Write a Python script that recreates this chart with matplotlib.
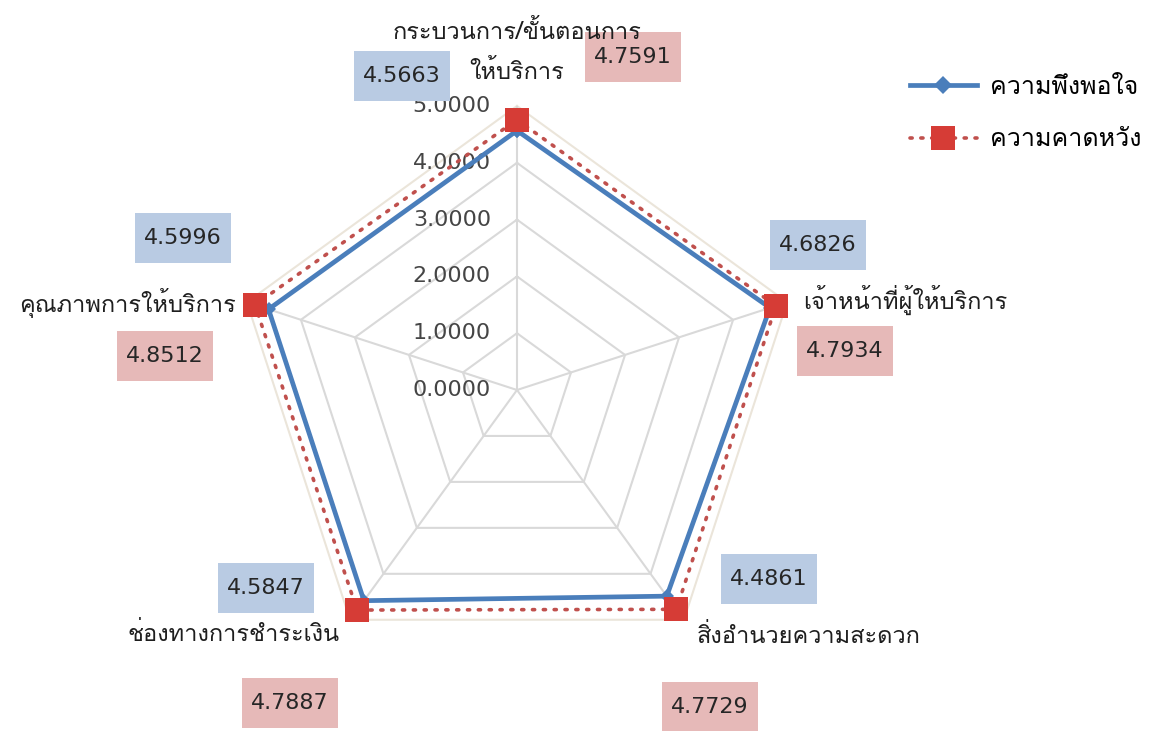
import numpy as np
import matplotlib
matplotlib.use("Agg")
import matplotlib.pyplot as plt
from matplotlib import font_manager
from matplotlib.ft2font import FT2Font
from matplotlib.lines import Line2D
from matplotlib.patches import Rectangle

# radar data: satisfaction vs expectation per service aspect
categories = ["กระบวนการ/ขั้นตอนการ\nให้บริการ",
              "เจ้าหน้าที่ผู้ให้บริการ",
              "สิ่งอำนวยความสะดวก",
              "ช่องทางการชำระเงิน",
              "คุณภาพการให้บริการ"]
satisfaction = [4.5663, 4.6826, 4.4861, 4.5847, 4.5996]
expectation = [4.7591, 4.7934, 4.7729, 4.7887, 4.8512]
levels = [0, 1, 2, 3, 4, 5]
series_names = ["ความพึงพอใจ", "ความคาดหวัง"]


def thai_family():
    preferred = ["Tahoma", "Loma", "Garuda", "Noto Sans Thai", "Noto Sans Thai UI",
                 "Norasi", "Kinnari", "Waree", "Umpush", "Sawasdee", "Laksaman"]
    found = {}
    for f in font_manager.fontManager.ttflist:
        try:
            cmap = FT2Font(f.fname).get_charmap()
        except Exception:
            continue
        if 0x0E01 in cmap and 0x0E49 in cmap:
            found.setdefault(f.name, f.fname)
    for name in preferred:
        if name in found:
            return name
    if found:
        return sorted(found)[0]
    return "DejaVu Sans"


THAI = thai_family()
plt.rcParams["font.family"] = [THAI, "DejaVu Sans"]

W, H = 1149, 731
fig = plt.figure(figsize=(W / 100, H / 100), dpi=100)


def fx(x, y):
    return x / W, 1 - y / H


# polar axes centred at (517, 390) px, radius 5 -> 284 px
cx, cy, rad = 517, 390, 284
ax = fig.add_axes([(cx - rad) / W, (H - cy - rad) / H, 2 * rad / W, 2 * rad / H],
                  projection="polar")
ax.set_theta_offset(np.pi / 2)
ax.set_theta_direction(-1)
ax.set_ylim(0, 5)
ax.grid(False)
ax.set_xticks([])
ax.set_yticks([])
ax.spines["polar"].set_visible(False)
ax.patch.set_alpha(0)

n = len(categories)
theta = np.linspace(0, 2 * np.pi, n, endpoint=False)
theta_c = np.append(theta, theta[0])

# pentagon gridlines and spokes (outer ring is fainter)
for lv in levels[1:]:
    col = "#ebe5da" if lv == levels[-1] else "#d9d9d9"
    ax.plot(theta_c, [lv] * (n + 1), color=col, lw=1.5, zorder=1, clip_on=False)
for t in theta:
    ax.plot([t, t], [0, levels[-1]], color="#d9d9d9", lw=1.5, zorder=1)

# radial tick labels along the vertical spoke
for lv in levels:
    ax.annotate(f"{lv:.4f}", xy=(0, lv), xytext=(-26, 0), textcoords="offset pixels",
                ha="right", va="center", fontsize=16, color="#454545",
                family="DejaVu Sans", zorder=3)

sat_c = np.append(satisfaction, satisfaction[0])
exp_c = np.append(expectation, expectation[0])
ax.plot(theta_c, sat_c, color="#4a7ebb", lw=3.4, marker="D", ms=7, mfc="#4a7ebb",
        mew=0, zorder=4, clip_on=False)
ax.plot(theta_c, exp_c, color="#c0504d", lw=2.6, ls=(0, (0.6, 2.4)),
        dash_capstyle="round", zorder=5, clip_on=False)
ax.plot(theta, expectation, ls="none", marker="s", ms=17, mfc="#d63c36", mew=0,
        zorder=6, clip_on=False)

# category labels
lab_kw = dict(fontsize=17, color="#1e1e1e")
top1, top2 = categories[0].split("\n")
fig.text(*fx(517, 32), top1, ha="center", va="center", **lab_kw)
fig.text(*fx(517, 72), top2, ha="center", va="center", **lab_kw)
fig.text(*fx(803, 300), categories[1], ha="left", va="center", **lab_kw)
fig.text(*fx(697, 636), categories[2], ha="left", va="center", **lab_kw)
fig.text(*fx(340, 634), categories[3], ha="right", va="center", **lab_kw)
fig.text(*fx(236, 303), categories[4], ha="right", va="center", **lab_kw)

# value boxes (centre positions in pixels)
sat_pos = [(402, 76), (818, 245), (769, 579), (266, 588), (183, 238)]
exp_pos = [(633, 57), (845, 351), (710, 707), (290, 703), (165, 356)]
bw, bh = 96, 50


def value_box(pos, val, fc):
    x, y = pos
    fig.patches.append(Rectangle(fx(x - bw / 2, y + bh / 2), bw / W, bh / H,
                                 transform=fig.transFigure, facecolor=fc,
                                 edgecolor="none", zorder=0))
    fig.text(*fx(x, y), f"{val:.4f}", ha="center", va="center", fontsize=16,
             color="#262626", family="DejaVu Sans")


for p, v in zip(sat_pos, satisfaction):
    value_box(p, v, "#b9cbe3")
for p, v in zip(exp_pos, expectation):
    value_box(p, v, "#e6b9b8")

# legend
handles = [Line2D([], [], color="#4a7ebb", lw=3.4, marker="D", ms=9, mfc="#4a7ebb", mew=0),
           Line2D([], [], color="#c0504d", lw=2.6, ls=(0, (0.6, 2.4)), dash_capstyle="round",
                  marker="s", ms=17, mfc="#d63c36", mew=0)]
fig.legend(handles, series_names, loc="upper left", bbox_to_anchor=fx(887, 53),
           frameon=False, fontsize=18, handlelength=2.7, labelspacing=1.2,
           handletextpad=0.5)

fig.savefig("out.png", dpi=100)
